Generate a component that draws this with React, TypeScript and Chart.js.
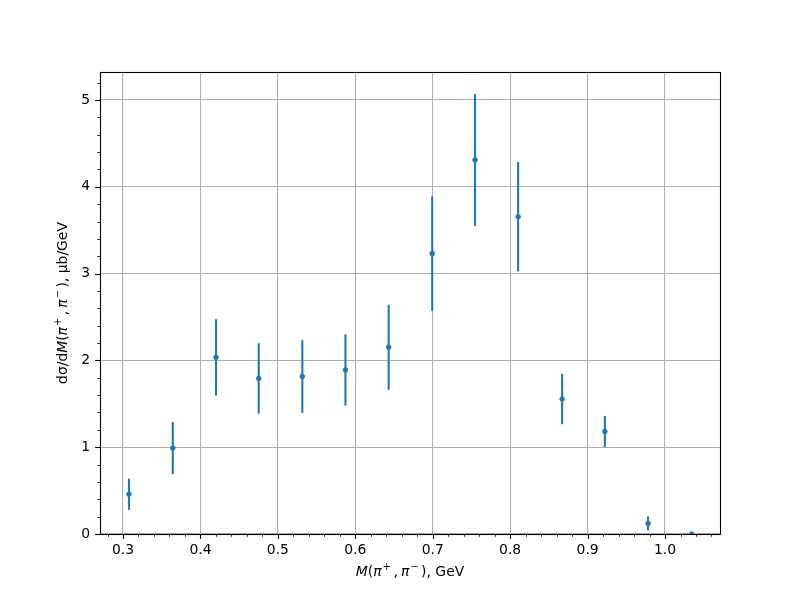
import React, { useEffect, useRef } from "react";
import { Chart, registerables } from "chart.js";

Chart.register(...registerables);

// ---- Data ----
const massGeV = [0.3077, 0.3643, 0.4201, 0.4753, 0.5316, 0.5873, 0.6431, 0.6993, 0.7546, 0.8103, 0.8671, 0.9223, 0.9781, 1.0344];
const dSigma = [0.458, 0.99, 2.035, 1.792, 1.815, 1.89, 2.152, 3.23, 4.31, 3.655, 1.555, 1.18, 0.122, 0.0];
const dSigmaErr = [0.18, 0.3, 0.44, 0.405, 0.42, 0.41, 0.49, 0.66, 0.76, 0.63, 0.29, 0.18, 0.08, 0.0];

const xMajorTicks = [0.3, 0.4, 0.5, 0.6, 0.7, 0.8, 0.9, 1.0];
const yMajorTicks = [0, 1, 2, 3, 4, 5];
const xMinorStep = 0.02;
const yMinorStep = 0.2;
const X_MIN = 0.2703;
const X_MAX = 1.0710;
const Y_MIN = 0;
const Y_MAX = 5.323;

// label segments: [text, italic, superscript]
const xTitle: [string, boolean, boolean][] = [
  ["M", true, false], ["(", false, false], ["π", true, false], ["+", false, true],
  [",", false, false], ["π", true, false], ["−", false, true], ["), GeV", false, false],
];
const yTitle: [string, boolean, boolean][] = [
  ["dσ/d", false, false], ["M", true, false], ["(", false, false], ["π", true, false], ["+", false, true],
  [",", false, false], ["π", true, false], ["−", false, true], ["), μb/GeV", false, false],
];

const BLUE = "#1f77b4";
const FONT = "DejaVu Sans";
const FS = 13.9;

function segFont(it: boolean, sup: boolean) {
  return `${it ? "italic " : ""}${sup ? FS * 0.72 : FS}px "${FONT}"`;
}

function drawMixed(ctx: CanvasRenderingContext2D, segs: [string, boolean, boolean][], cx: number, cy: number, rot: number) {
  ctx.save();
  ctx.translate(cx, cy);
  ctx.rotate(rot);
  let total = 0;
  const widths: number[] = [];
  for (const [t, it, sup] of segs) {
    ctx.font = segFont(it, sup);
    let w = ctx.measureText(t).width + (sup ? 3.5 : 0);
    if (t === ",") w += 3;
    widths.push(w);
    total += w;
  }
  let x = -total / 2;
  ctx.fillStyle = "#000";
  ctx.textBaseline = "middle";
  ctx.textAlign = "left";
  segs.forEach(([t, it, sup], i) => {
    ctx.font = segFont(it, sup);
    ctx.fillText(t, x + (sup ? 1 : 0), sup ? -5 : 0);
    x += widths[i];
  });
  ctx.restore();
}

const mplPlugin = {
  id: "mpl",
  beforeDatasetsDraw(chart: any) {
    const ctx = chart.ctx as CanvasRenderingContext2D;
    const { left, right, top, bottom } = chart.chartArea;
    const xs = chart.scales.x;
    const ys = chart.scales.y;
    ctx.save();
    ctx.beginPath();
    ctx.rect(left, top, right - left, bottom - top);
    ctx.clip();
    ctx.strokeStyle = BLUE;
    ctx.lineWidth = 2.08;
    massGeV.forEach((m, i) => {
      const e = dSigmaErr[i];
      if (e <= 0) return;
      const px = xs.getPixelForValue(m);
      ctx.beginPath();
      ctx.moveTo(px, ys.getPixelForValue(dSigma[i] - e));
      ctx.lineTo(px, ys.getPixelForValue(dSigma[i] + e));
      ctx.stroke();
    });
    ctx.restore();
  },
  afterDraw(chart: any) {
    const ctx = chart.ctx as CanvasRenderingContext2D;
    const { left, right, top, bottom } = chart.chartArea;
    const xs = chart.scales.x;
    const ys = chart.scales.y;
    ctx.save();
    ctx.strokeStyle = "#000";
    const drawX = (v: number, len: number, lw: number) => {
      const p = Math.round(xs.getPixelForValue(v)) + 0.5;
      ctx.lineWidth = lw;
      ctx.beginPath();
      ctx.moveTo(p, bottom);
      ctx.lineTo(p, bottom + len);
      ctx.stroke();
    };
    const drawY = (v: number, len: number, lw: number) => {
      const p = Math.round(ys.getPixelForValue(v)) + 0.5;
      ctx.lineWidth = lw;
      ctx.beginPath();
      ctx.moveTo(left, p);
      ctx.lineTo(left - len, p);
      ctx.stroke();
    };
    for (let k = Math.ceil(X_MIN / xMinorStep); k * xMinorStep <= X_MAX; k++) {
      const v = k * xMinorStep;
      if (xMajorTicks.some((t) => Math.abs(t - v) < 1e-6)) continue;
      drawX(v, 2.8, 0.8);
    }
    for (let k = Math.ceil(Y_MIN / yMinorStep); k * yMinorStep <= Y_MAX; k++) {
      const v = k * yMinorStep;
      if (yMajorTicks.some((t) => Math.abs(t - v) < 1e-6)) continue;
      drawY(v, 2.8, 0.8);
    }
    xMajorTicks.forEach((v) => drawX(v, 4.9, 1.1));
    yMajorTicks.forEach((v) => drawY(v, 4.9, 1.1));
    ctx.lineWidth = 1.1;
    ctx.strokeRect(Math.round(left) + 0.5, Math.round(top) + 0.5, Math.round(right - left), Math.round(bottom - top));
    ctx.restore();
    drawMixed(ctx, xTitle, (left + right) / 2, 572, 0);
    drawMixed(ctx, yTitle, 63, (top + bottom) / 2, -Math.PI / 2);
  },
};

export default function App() {
  const ref = useRef<HTMLCanvasElement | null>(null);
  useEffect(() => {
    if (!ref.current) return;
    const chart = new Chart(ref.current, {
      type: "scatter",
      data: {
        datasets: [
          {
            data: massGeV.map((m, i) => ({ x: m, y: dSigma[i] })),
            backgroundColor: BLUE,
            borderColor: BLUE,
            pointRadius: 2.3,
            borderWidth: 1,
            pointHoverRadius: 2.3,
            clip: 0,
          } as any,
        ],
      },
      options: {
        responsive: false,
        animation: false,
        devicePixelRatio: 1,
        layout: { padding: { left: 40, right: 80, top: 72, bottom: 26 } },
        plugins: { legend: { display: false }, tooltip: { enabled: false } },
        scales: {
          x: {
            type: "linear",
            min: X_MIN,
            max: X_MAX,
            afterBuildTicks: (s: any) => {
              s.ticks = xMajorTicks.map((v) => ({ value: v }));
            },
            afterFit: (s: any) => {
              s.height = 40;
            },
            ticks: {
              color: "#000",
              font: { family: FONT, size: FS },
              padding: 8,
              maxRotation: 0,
              autoSkip: false,
              callback: (v: any) => Number(v).toFixed(1),
            },
            grid: { color: "#b0b0b0", lineWidth: 1.1, drawTicks: false },
            border: { display: false },
          },
          y: {
            type: "linear",
            min: Y_MIN,
            max: Y_MAX,
            afterBuildTicks: (s: any) => {
              s.ticks = yMajorTicks.map((v) => ({ value: v }));
            },
            afterFit: (s: any) => {
              s.width = 60;
            },
            ticks: {
              color: "#000",
              font: { family: FONT, size: FS },
              padding: 10,
              autoSkip: false,
              callback: (v: any) => Number(v).toFixed(0),
            },
            grid: { color: "#b0b0b0", lineWidth: 1.1, drawTicks: false },
            border: { display: false },
          },
        },
      },
      plugins: [mplPlugin],
    });
    return () => chart.destroy();
  }, []);
  return (
    <div style={{ position: "absolute", left: 0, top: 0, width: 800, height: 600, background: "#fff" }}>
      <canvas ref={ref} width={800} height={600} />
    </div>
  );
}
